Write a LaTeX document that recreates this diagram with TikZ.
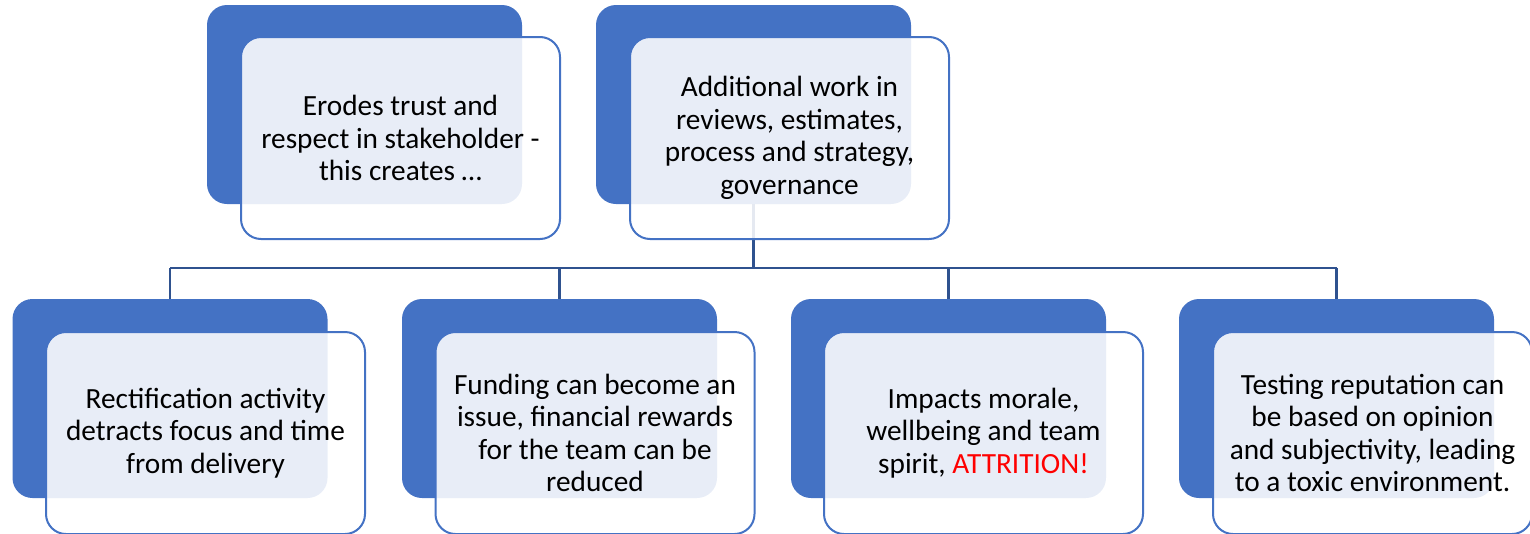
\documentclass[tikz,border=0pt]{standalone}
\usepackage{fontspec}
\setmainfont{Carlito}
\definecolor{accent}{HTML}{4472C4}
\definecolor{linkblue}{HTML}{2F528F}
\definecolor{alert}{HTML}{FF0000}
\begin{document}
\begin{tikzpicture}[x=1pt,y=-1pt,
  backbox/.style={draw=none,fill=accent,rounded corners=20pt,
    minimum width=315pt,minimum height=199pt,inner sep=0pt},
  frontbox/.style={draw=accent,line width=2pt,fill=white,fill opacity=0.88,
    text opacity=1,rounded corners=20pt,minimum width=319pt,minimum height=202pt,
    inner sep=0pt,align=center,text=black,
    font=\fontsize{29.3}{32.5}\selectfont},
  link/.style={draw=linkblue,line width=2.5pt}]
\useasboundingbox (0,0) rectangle (1530,533);

% bus line joining the upper box to the lower row
\coordinate (bus) at (753.5,268);

% upper row: back plates
\node[backbox] (t1) at (364.5,104.5) {};
\node[backbox] (t2) at (753.5,104.5) {};
% lower row: back plates
\node[backbox] (b1) at (170,398.5) {};
\node[backbox] (b2) at (559.5,398.5) {};
\node[backbox] (b3) at (948.5,398.5) {};
\node[backbox] (b4) at (1336.5,398.5) {};

% connectors
\draw[link] (t2.south) -- (t2.south |- bus);
\draw[link] (b1.north |- bus) -- (b4.north |- bus);
\draw[link] (b1.north |- bus) -- (b1.north);
\draw[link] (b2.north |- bus) -- (b2.north);
\draw[link] (b3.north |- bus) -- (b3.north);
\draw[link] (b4.north |- bus) -- (b4.north);

% front cards with the text
\node[frontbox] (f1) at (400.5,138) {Erodes trust and\\respect in stakeholder -\\this creates \dots};
\node[frontbox] (f2) at (789.5,138) {Additional work in\\reviews, estimates,\\process and strategy,\\governance};
\node[frontbox] (g1) at (205.5,433) {Rectification activity\\detracts focus and time\\from delivery};
\node[frontbox] (g2) at (595,433) {Funding can become an\\issue, financial rewards\\for the team can be\\reduced};
\node[frontbox] (g3) at (983.5,433) {Impacts morale,\\wellbeing and team\\spirit, \textcolor{alert}{ATTRITION!}};
\node[frontbox] (g4) at (1372.5,433) {Testing reputation can\\be based on opinion\\and subjectivity, leading\\to a toxic environment.};
\end{tikzpicture}
\end{document}
